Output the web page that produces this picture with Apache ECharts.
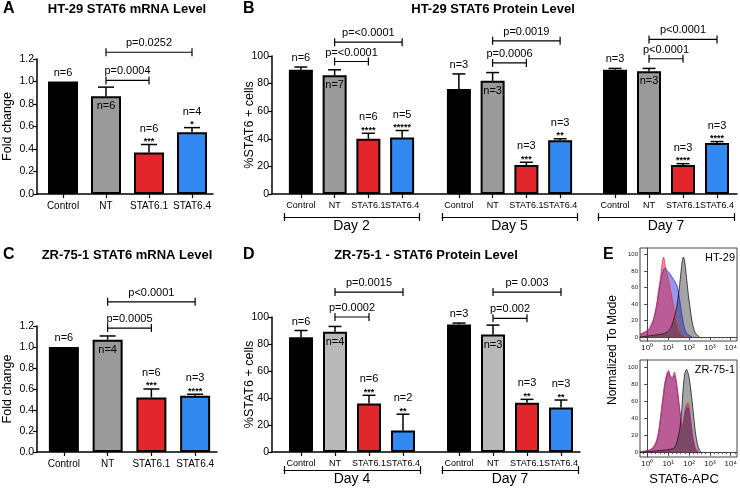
<!DOCTYPE html>
<html>
<head>
<meta charset="utf-8">
<script src="https://cdn.jsdelivr.net/npm/echarts@6/dist/echarts.min.js"></script>
<style>
html, body { margin: 0; padding: 0; background: #fff; }
#chart { width: 740px; height: 488px; }
</style>
</head>
<body>
<div id="chart"></div>
<script>
// ---- data ----
var groups = ["Control", "NT", "STAT6.1", "STAT6.4"];

// A: HT-29 mRNA (fold change)
var aMean = [1.0, 0.87, 0.37, 0.55];
var aErr = [1.0, 0.95, 0.44, 0.59];
var aN = ["n=6", "n=6", "n=6", "n=4"];
var aStars = ["", "", "***", "*"];
var aP = [[1, 2, 1.01, "p=0.0004"], [1, 3, 1.26, "p=0.0252"]];

// B: HT-29 protein (% STAT6+ cells)
var bDay2Mean = [90, 86, 40, 41];
var bDay2Err = [92, 90, 44, 46];
var bDay2N = ["n=6", "n=7", "n=6", "n=5"];
var bDay2Stars = ["", "", "****", "*****"];
var bDay2P = [[1, 2, 96, "p=<0.0001"], [1, 3, 110, "p=<0.0001"]];

var bDay5Mean = [76, 82, 21, 39];
var bDay5Err = [87, 88, 23, 40];
var bDay5N = ["n=3", "n=3", "n=3", "n=3"];
var bDay5Stars = ["", "", "***", "**"];
var bDay5P = [[1, 2, 95, "p=0.0006"], [1, 3, 111, "p=0.0019"]];

var bDay7Mean = [90, 89, 21, 37];
var bDay7Err = [91, 91, 22, 38];
var bDay7N = ["n=3", "n=3", "n=3", "n=3"];
var bDay7Stars = ["", "", "****", "****"];
var bDay7P = [[1, 2, 98, "p<0.0001"], [1, 3, 112, "p<0.0001"]];

// C: ZR-75-1 mRNA
var cMean = [1.0, 1.07, 0.52, 0.535];
var cErr = [1.0, 1.105, 0.60, 0.55];
var cN = ["n=6", "n=4", "n=6", "n=3"];
var cStars = ["", "", "***", "****"];
var cP = [[1, 2, 1.18, "p=0.0005"], [1, 3, 1.43, "p<0.0001"]];

// D: ZR-75-1 protein
var dDay4Mean = [85, 89, 36, 16];
var dDay4Err = [90, 93, 42, 28];
var dDay4N = ["n=6", "n=4", "n=6", "n=2"];
var dDay4Stars = ["", "", "***", "**"];
var dDay4P = [[1, 2, 100, "p=0.0002"], [1, 3, 118.5, "p=0.0015"]];

var dDay7Mean = [94.5, 87, 36.5, 33];
var dDay7Err = [95.5, 94, 39, 38.5];
var dDay7N = ["n=3", "n=3", "n=3", "n=3"];
var dDay7Stars = ["", "", "**", "**"];
var dDay7P = [[1, 2, 99, "p=0.002"], [1, 3, 118.5, "p= 0.003"]];

// n label sits inside the bar for NT
var nInside = [false, true, false, false];

// E: flow histograms, [log10 STAT6-APC, % of mode]
var htRed = [[-0.35, 3], [-0.1, 6], [0.1, 10], [0.3, 22], [0.45, 40], [0.55, 58], [0.65, 75], [0.72, 90], [0.78, 97], [0.85, 88], [0.95, 76], [1.05, 65], [1.15, 52], [1.25, 38], [1.35, 24], [1.45, 13], [1.55, 6], [1.7, 1], [1.85, 0]];
var htBlue = [[-0.35, 3], [-0.1, 6], [0.1, 10], [0.3, 21], [0.45, 38], [0.55, 55], [0.65, 70], [0.75, 80], [0.85, 84], [0.95, 80], [1.05, 78], [1.15, 74], [1.25, 70], [1.35, 66], [1.45, 60], [1.55, 45], [1.65, 28], [1.75, 14], [1.85, 6], [2.0, 2], [2.15, 0]];
var htGray = [[-0.35, 0], [0, 1], [0.3, 2], [0.6, 3], [0.9, 5], [1.1, 10], [1.2, 16], [1.3, 24], [1.4, 35], [1.5, 52], [1.6, 75], [1.68, 93], [1.73, 97], [1.8, 90], [1.88, 72], [1.95, 55], [2.05, 35], [2.15, 18], [2.25, 8], [2.35, 3], [2.5, 0]];
var zrRed = [[-0.35, 1], [-0.1, 2], [0.1, 3], [0.3, 7], [0.45, 15], [0.55, 26], [0.65, 45], [0.75, 65], [0.85, 83], [0.95, 93], [1.02, 96], [1.1, 90], [1.2, 88], [1.3, 94], [1.38, 85], [1.48, 66], [1.58, 44], [1.67, 29], [1.75, 40], [1.85, 55], [1.95, 58], [2.05, 45], [2.15, 25], [2.25, 10], [2.35, 3], [2.5, 0]];
var zrBlue = [[-0.35, 1], [-0.1, 2], [0.1, 3], [0.3, 6], [0.45, 13], [0.55, 24], [0.65, 42], [0.75, 62], [0.85, 80], [0.95, 90], [1.02, 94], [1.1, 88], [1.2, 86], [1.3, 90], [1.38, 83], [1.48, 64], [1.58, 44], [1.67, 30], [1.75, 38], [1.85, 50], [1.95, 52], [2.05, 40], [2.15, 22], [2.25, 9], [2.35, 3], [2.5, 0]];
var zrGray = [[-0.35, 0], [0, 1], [0.4, 2], [0.8, 3], [1.1, 4], [1.3, 6], [1.45, 15], [1.57, 30], [1.65, 50], [1.72, 75], [1.8, 92], [1.88, 97], [1.95, 93], [2.02, 85], [2.1, 70], [2.2, 48], [2.3, 25], [2.4, 10], [2.5, 3], [2.6, 0]];
var histTicks = [0, 20, 40, 60, 80, 100];
var logTicks = [0, 1, 2, 3, 4];

// ---- styling ----
var FONT = "'Liberation Sans', Arial, Helvetica, sans-serif";
var colsDark = ["#000000", "#9a9a9a", "#e2262c", "#3389f2"];
var colsLight = ["#000000", "#b9b9b9", "#e2262c", "#3389f2"];

var option = {
    animation: false,
    backgroundColor: "#fff",
    textStyle: { fontFamily: FONT },
    grid: [], xAxis: [], yAxis: [], series: [], graphic: []
};

//坐标框：只画y轴和底线
function addFrame(f) {
    var gi = option.grid.length;
    option.grid.push({ left: f.left, top: f.top, width: f.right - f.left, height: f.bottom - f.top });
    option.xAxis.push({
        gridIndex: gi, type: "value", min: 0, max: 1,
        axisLine: { show: true, lineStyle: { color: "#000", width: 1.5 } },
        axisTick: { show: false }, axisLabel: { show: false }, splitLine: { show: false }
    });
    option.yAxis.push({
        gridIndex: gi, type: "value", min: 0, max: f.max, interval: f.interval,
        name: f.name, nameLocation: "middle", nameGap: f.nameGap, nameRotate: 90, nameMoveOverlap: false,
        nameTextStyle: { fontSize: 12.5, color: "#000", fontFamily: FONT },
        axisLine: { show: true, lineStyle: { color: "#000", width: 1.5 } },
        axisTick: { show: true, length: 4, lineStyle: { color: "#000", width: 1.2 } },
        axisLabel: {
            fontSize: 10.5, color: "#000", margin: 3, fontFamily: FONT,
            formatter: function (v) { return v.toFixed(f.digits); }
        },
        splitLine: { show: false }
    });
}

function errRender(g) {
    return function (params, api) {
        var i = api.value(0);
        var pm = api.coord([i, api.value(1)]);
        var pe = api.coord([i, api.value(2)]);
        var x = pm[0];
        var k = params.dataIndex;
        var ls = { stroke: "#000", lineWidth: 1.5 };
        var ch = [];
        if (pe[1] < pm[1] - 0.5) {
            ch.push({ type: "line", shape: { x1: x, y1: pm[1], x2: x, y2: pe[1] }, style: ls });
            ch.push({ type: "line", shape: { x1: x - g.cap / 2, y1: pe[1], x2: x + g.cap / 2, y2: pe[1] }, style: ls });
        }
        var nStyle = { text: g.n[k], fill: "#000", fontSize: 11, fontFamily: FONT, align: "center", verticalAlign: "middle" };
        if (nInside[k]) {
            ch.push({ type: "text", x: x, y: pm[1] + 10, style: nStyle });
        } else if (g.stars[k]) {
            ch.push({ type: "text", x: x, y: pe[1] - 3, style: { text: g.stars[k], fill: "#000", fontSize: 9, fontWeight: "bold", fontFamily: FONT, align: "center", verticalAlign: "middle" } });
            ch.push({ type: "text", x: x, y: pe[1] - 16, style: nStyle });
        } else {
            ch.push({ type: "text", x: x, y: pe[1] - 9, style: nStyle });
        }
        return { type: "group", children: ch };
    };
}

function pRender(g) {
    return function (params, api) {
        var p1 = api.coord([api.value(0), api.value(2)]);
        var p2 = api.coord([api.value(1), api.value(2)]);
        var ls = { stroke: "#000", lineWidth: 1.2 };
        return {
            type: "group", children: [
                { type: "line", shape: { x1: p1[0], y1: p1[1], x2: p2[0], y2: p2[1] }, style: ls },
                { type: "line", shape: { x1: p1[0], y1: p1[1] - 4, x2: p1[0], y2: p1[1] + 4 }, style: ls },
                { type: "line", shape: { x1: p2[0], y1: p2[1] - 4, x2: p2[0], y2: p2[1] + 4 }, style: ls },
                { type: "text", x: (p1[0] + p2[0]) / 2, y: p1[1] - 9, style: { text: g.p[params.dataIndex][3], fill: "#000", fontSize: 11, fontFamily: FONT, align: "center", verticalAlign: "middle" } }
            ]
        };
    };
}

//一组柱子（一个grid）
function addGroup(g) {
    var gi = option.grid.length;
    option.grid.push({ left: g.left, top: g.top, width: g.right - g.left, height: g.bottom - g.top });
    var xi = option.xAxis.length;
    option.xAxis.push({
        gridIndex: gi, type: "category", data: groups,
        axisLine: { show: false },
        axisTick: { show: true, alignWithLabel: true, length: 4, lineStyle: { color: "#000", width: 1.2 } },
        axisLabel: { fontSize: g.labelSize, color: "#000", margin: g.labelMargin, interval: 0, fontFamily: FONT }
    });
    if (g.day) {
        option.xAxis.push({
            gridIndex: gi, type: "category", data: [g.day], position: "bottom", offset: g.dayOffset,
            axisLine: { show: true, lineStyle: { color: "#000", width: 1.2 } },
            axisTick: { show: true, interval: 0, length: 4, lineStyle: { color: "#000", width: 1.2 } },
            axisLabel: { fontSize: 14, color: "#000", margin: 2, fontFamily: FONT }
        });
        option.xAxis.push({
            gridIndex: gi, type: "category", data: [g.day], position: "bottom", offset: g.dayOffset,
            axisLine: { show: false },
            axisTick: { show: true, inside: true, interval: 0, length: 4, lineStyle: { color: "#000", width: 1.2 } },
            axisLabel: { show: false }
        });
    }
    var yi = option.yAxis.length;
    option.yAxis.push({ gridIndex: gi, type: "value", min: 0, max: g.max, show: false });

    option.series.push({
        type: "bar", xAxisIndex: xi, yAxisIndex: yi, barWidth: g.barWidth,
        itemStyle: { borderColor: "#000", borderWidth: 2 },
        data: g.mean.map(function (v, i) { return { value: v, itemStyle: { color: g.colors[i] } }; })
    });
    option.series.push({
        type: "custom", xAxisIndex: xi, yAxisIndex: yi, clip: false, z: 5,
        renderItem: errRender(g),
        data: g.mean.map(function (v, i) { return [i, v, g.err[i]]; })
    });
    option.series.push({
        type: "custom", xAxisIndex: xi, yAxisIndex: yi, clip: false, z: 5,
        renderItem: pRender(g),
        data: g.p.map(function (b) { return [b[0], b[1], b[2]]; })
    });
}

function supNum(v) {
    var s = ["\u2070", "\u00b9", "\u00b2", "\u00b3", "\u2074"];
    return "10" + s[v];
}

function addHist(h) {
    var gi = option.grid.length;
    option.grid.push({ left: 640, top: h.top, width: 97, height: h.height, show: true, borderColor: "#444", borderWidth: 1, backgroundColor: "transparent" });
    var xi = option.xAxis.length;
    option.xAxis.push({
        gridIndex: gi, type: "value", min: -0.35, max: 4.3,
        axisLine: { show: true, lineStyle: { color: "#444", width: 1 } },
        axisTick: { show: true, customValues: logTicks, length: 3, lineStyle: { color: "#444" } },
        minorTick: { show: true, splitNumber: 5, length: 1.5, lineStyle: { color: "#666" } },
        axisLabel: { customValues: logTicks, fontSize: 8, color: "#222", margin: 3, fontFamily: FONT, formatter: function (v) { return supNum(Math.round(v)); } },
        splitLine: { show: false }
    });
    var yi = option.yAxis.length;
    option.yAxis.push({
        gridIndex: gi, type: "value", min: -5, max: 108,
        axisLine: { show: true, lineStyle: { color: "#444", width: 1 } },
        axisTick: { show: true, customValues: histTicks, length: 3, lineStyle: { color: "#444" } },
        axisLabel: { customValues: histTicks, fontSize: 6, color: "#222", margin: 2, fontFamily: FONT },
        splitLine: { show: false }
    });
    var sets = [[h.blue, "#2b2bd8", "rgba(40,40,220,0.7)"], [h.red, "#e8333a", "rgba(225,35,60,0.7)"], [h.gray, "#1a1a1a", "rgba(40,40,40,0.6)"]];
    sets.forEach(function (s) {
        option.series.push({
            type: "line", xAxisIndex: xi, yAxisIndex: yi, data: s[0], smooth: 0.3,
            showSymbol: false, symbol: "none",
            lineStyle: { color: s[1], width: 0.8 },
            areaStyle: { color: s[2], origin: 0 }
        });
    });
}

// A
addFrame({ left: 35, right: 213, top: 59, bottom: 194, max: 1.2, interval: 0.2, digits: 1, name: "Fold change", nameGap: 23 });
addGroup({ left: 41.5, right: 213.5, top: 59, bottom: 194, max: 1.2, mean: aMean, err: aErr, n: aN, stars: aStars, p: aP, colors: colsDark, barWidth: 30, cap: 16, labelSize: 10, labelMargin: 7 });

// B
addFrame({ left: 272, right: 737, top: 56, bottom: 194, max: 100, interval: 20, digits: 0, name: "%STAT6 + cells", nameGap: 16 });
addGroup({ left: 284, right: 419, top: 56, bottom: 194, max: 100, mean: bDay2Mean, err: bDay2Err, n: bDay2N, stars: bDay2Stars, p: bDay2P, colors: colsDark, barWidth: 24, cap: 13, labelSize: 9, labelMargin: 7, day: "Day 2", dayOffset: 23 });
addGroup({ left: 442, right: 577, top: 56, bottom: 194, max: 100, mean: bDay5Mean, err: bDay5Err, n: bDay5N, stars: bDay5Stars, p: bDay5P, colors: colsDark, barWidth: 24, cap: 13, labelSize: 9, labelMargin: 7, day: "Day 5", dayOffset: 23 });
addGroup({ left: 598, right: 734, top: 56, bottom: 194, max: 100, mean: bDay7Mean, err: bDay7Err, n: bDay7N, stars: bDay7Stars, p: bDay7P, colors: colsDark, barWidth: 24, cap: 13, labelSize: 9, labelMargin: 7, day: "Day 7", dayOffset: 23 });

// C
addFrame({ left: 35, right: 217, top: 326, bottom: 452, max: 1.2, interval: 0.2, digits: 1, name: "Fold change", nameGap: 23 });
addGroup({ left: 42, right: 217, top: 326, bottom: 452, max: 1.2, mean: cMean, err: cErr, n: cN, stars: cStars, p: cP, colors: colsDark, barWidth: 30, cap: 16, labelSize: 10, labelMargin: 7 });

// D
addFrame({ left: 272, right: 580, top: 317, bottom: 452, max: 100, interval: 20, digits: 0, name: "%STAT6 + cells", nameGap: 16 });
addGroup({ left: 284, right: 420, top: 317, bottom: 452, max: 100, mean: dDay4Mean, err: dDay4Err, n: dDay4N, stars: dDay4Stars, p: dDay4P, colors: colsLight, barWidth: 24, cap: 13, labelSize: 9, labelMargin: 7, day: "Day 4", dayOffset: 18 });
addGroup({ left: 442, right: 578, top: 317, bottom: 452, max: 100, mean: dDay7Mean, err: dDay7Err, n: dDay7N, stars: dDay7Stars, p: dDay7P, colors: colsLight, barWidth: 24, cap: 13, labelSize: 9, labelMargin: 7, day: "Day 7", dayOffset: 18 });

// E
addHist({ top: 248, height: 93, red: htRed, blue: htBlue, gray: htGray });
addHist({ top: 360, height: 97, red: zrRed, blue: zrBlue, gray: zrGray });

//标题和面板字母
function txt(t, x, y, size, bold, align, rot) {
    option.graphic.push({
        type: "text", x: x, y: y, rotation: rot || 0, z: 10,
        style: { text: t, fill: "#000", fontSize: size, fontWeight: bold ? "bold" : "normal", fontFamily: FONT, align: align || "left", verticalAlign: "middle" }
    });
}
txt("A", 3, 9, 16, true);
txt("HT-29 STAT6 mRNA Level", 127, 9, 13, true, "center");
txt("B", 243, 9, 16, true);
txt("HT-29 STAT6 Protein Level", 493, 9, 13, true, "center");
txt("C", 3, 255, 16, true);
txt("ZR-75-1 STAT6 mRNA Level", 127, 255, 13, true, "center");
txt("D", 243, 255, 16, true);
txt("ZR-75-1 - STAT6 Protein Level", 426, 255, 13, true, "center");
txt("E", 603, 255, 16, true);
txt("HT-29", 735, 258, 11, false, "right");
txt("ZR-75-1", 735, 370, 11, false, "right");
txt("Normalized To Mode", 613, 350, 12, false, "center", Math.PI / 2);
txt("STAT6-APC", 684, 479, 13, false, "center");

var myChart = echarts.init(document.getElementById("chart"), null, { renderer: "canvas" });
myChart.setOption(option);
</script>
</body>
</html>
